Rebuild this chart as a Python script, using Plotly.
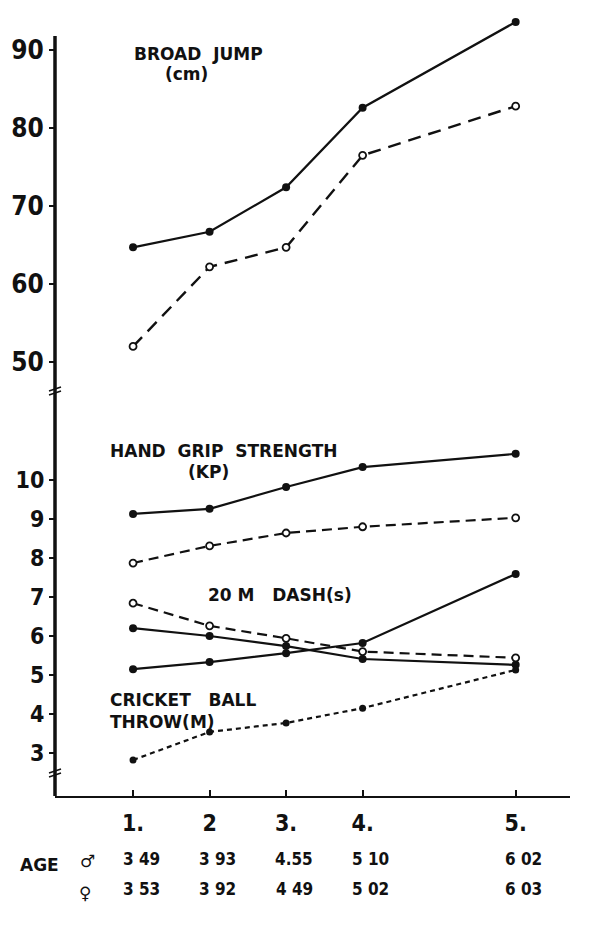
import plotly.graph_objects as go

# test positions (5th test drawn one step further right)
x_pos = [1, 2, 3, 4, 6]
x_labels = ["1.", "2", "3.", "4.", "5."]

# mean ages
age_boys = ["3 49", "3 93", "4.55", "5 10", "6 02"]
age_girls = ["3 53", "3 92", "4 49", "5 02", "6 03"]

# upper panel (cm)
broad_jump_boys = [64.7, 66.7, 72.4, 82.6, 93.6]
broad_jump_girls = [52.0, 62.2, 64.7, 76.5, 82.8]

# lower panel
grip_boys = [9.13, 9.26, 9.82, 10.33, 10.67]
grip_girls = [7.87, 8.31, 8.64, 8.80, 9.03]
dash_boys = [6.20, 6.00, 5.74, 5.41, 5.26]
dash_girls = [6.84, 6.26, 5.94, 5.60, 5.44]
throw_boys = [5.15, 5.33, 5.56, 5.82, 7.59]
throw_girls = [2.82, 3.54, 3.77, 4.15, 5.13]

upper_ticks = [50, 60, 70, 80, 90]
lower_ticks = [3, 4, 5, 6, 7, 8, 9, 10]

W, H = 600, 927
L, R, T, B = 55, 30, 15, 131
FONT = "DejaVu Sans Condensed, Liberation Sans Narrow, DejaVu Sans"
LABEL_FONT = "DejaVu Sans"
INK = "#111111"


def px_x(p):
    return (p - L) / (W - L - R)


def px_y(p):
    return (H - B - p) / (H - T - B)


split = px_y(393)

fig = go.Figure()

solid = dict(color=INK, width=2.2)
filled = dict(size=8, color=INK)
hollow = dict(size=7, color="white", line=dict(color=INK, width=1.8))


def add(y, axis, line, marker):
    fig.add_trace(go.Scatter(x=x_pos, y=y, yaxis=axis, mode="lines+markers",
                             line=line, marker=marker, cliponaxis=False,
                             showlegend=False, hoverinfo="x+y"))


add(broad_jump_boys, "y2", solid, filled)
add(broad_jump_girls, "y2", dict(color=INK, width=2.4, dash="13px,8px"), hollow)
add(grip_boys, "y", solid, filled)
add(grip_girls, "y", dict(color=INK, width=2.2, dash="10px,6px"), hollow)
add(dash_boys, "y", solid, filled)
add(dash_girls, "y", dict(color=INK, width=2.2, dash="10px,6px"), hollow)
add(throw_boys, "y", solid, filled)
add(throw_girls, "y", dict(color=INK, width=2.2, dash="5px,4px"), dict(size=7, color=INK))

fig.update_layout(
    width=W, height=H,
    margin=dict(l=L, r=R, t=T, b=B, autoexpand=False),
    paper_bgcolor="white", plot_bgcolor="white",
    font=dict(family=FONT, color=INK),
    xaxis=dict(range=[-0.02, 6.71], tickvals=x_pos, ticktext=x_labels,
               showgrid=False, zeroline=False, showline=True, linecolor=INK,
               linewidth=1.6, ticks="inside", ticklen=6, tickwidth=2,
               tickcolor=INK, ticklabelstandoff=6, automargin=False,
               tickfont=dict(size=23, family=FONT, color=INK, weight="bold")),
    yaxis=dict(domain=[0, split], range=[1.897, 12.23], tickvals=lower_ticks,
               showgrid=False, zeroline=False, showline=False, ticks="outside",
               ticklen=5, tickwidth=2, tickcolor=INK, anchor="x", automargin=False,
               tickfont=dict(size=23, family=FONT, color=INK, weight="bold")),
    yaxis2=dict(domain=[split, 1], range=[46.03, 94.49], tickvals=upper_ticks,
                showgrid=False, zeroline=False, showline=False, ticks="outside",
                ticklen=5, tickwidth=2, tickcolor=INK, anchor="x", automargin=False,
                tickfont=dict(size=26, family=FONT, color=INK, weight="bold")),
)

# vertical axis line, broken at two places
fig.add_shape(type="line", xref="paper", yref="paper", x0=0, x1=0,
              y0=0, y1=px_y(36), line=dict(color=INK, width=3.5))
for by in (391, 773):
    for dy in (-2, 2):
        fig.add_shape(type="line", xref="paper", yref="paper",
                      x0=px_x(L - 6), x1=px_x(L + 6),
                      y0=px_y(by + dy + 2), y1=px_y(by + dy - 2),
                      line=dict(color=INK, width=1.6))

labels = [
    ("BROAD  JUMP", 132, 54),
    ("(cm)", 163, 74),
    ("HAND  GRIP  STRENGTH", 108, 451),
    ("(KP)", 186, 472),
    ("20 M   DASH(s)", 206, 595),
    ("CRICKET   BALL", 108, 700),
    ("THROW(M)", 108, 722),
]
for text, lx, ly in labels:
    fig.add_annotation(text=text, xref="paper", yref="paper", x=px_x(lx), y=px_y(ly),
                       xanchor="left", yanchor="middle", showarrow=False,
                       font=dict(size=17, family=LABEL_FONT, color=INK, weight="bold"))

fig.add_annotation(text="AGE", xref="paper", yref="paper", x=px_x(18), y=px_y(865),
                   xanchor="left", yanchor="middle", showarrow=False,
                   font=dict(size=17, family=LABEL_FONT, color=INK, weight="bold"))
fig.add_annotation(text="♂", xref="paper", yref="paper", x=px_x(87), y=px_y(861),
                   xanchor="center", yanchor="middle", showarrow=False,
                   font=dict(size=17, family="DejaVu Sans", color=INK, weight="bold"))
fig.add_annotation(text="♀", xref="paper", yref="paper", x=px_x(85), y=px_y(893),
                   xanchor="center", yanchor="middle", showarrow=False,
                   font=dict(size=17, family="DejaVu Sans", color=INK, weight="bold"))

for xv, a, b in zip(x_pos, age_boys, age_girls):
    for txt, ry in ((a, 859), (b, 889)):
        fig.add_annotation(text=txt, x=xv, xref="x", yref="paper", y=px_y(ry),
                           xanchor="center", yanchor="middle", xshift=8,
                           showarrow=False,
                           font=dict(size=17, family=FONT, color=INK, weight="bold"))

# drop the browser's default page margin so the figure sits at 0,0
fig.write_html("out.html", config={"displayModeBar": False},
               post_script="document.body.style.margin='0';")
